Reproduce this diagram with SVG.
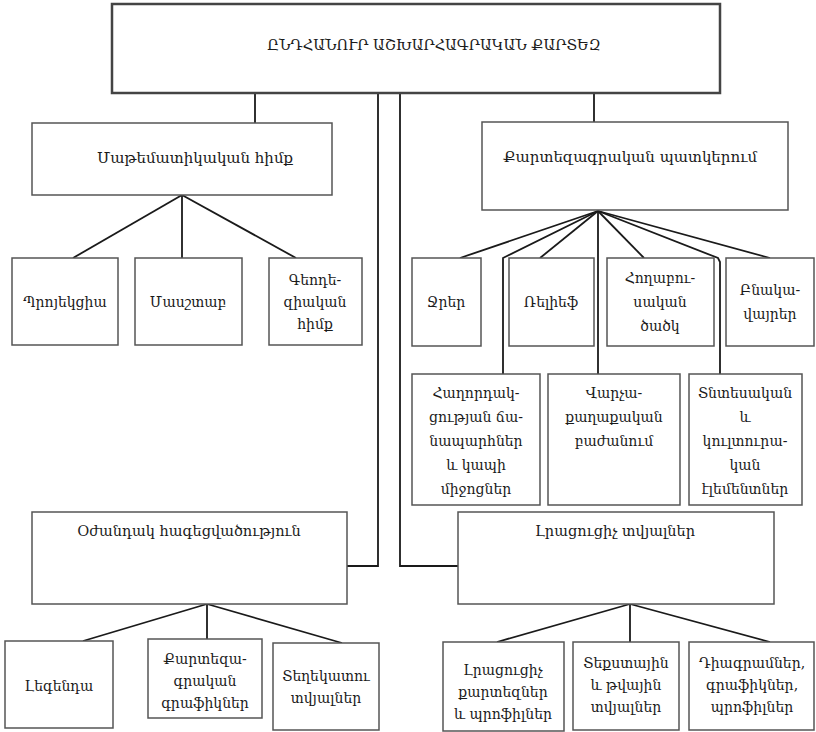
<svg xmlns="http://www.w3.org/2000/svg" width="816" height="732" viewBox="0 0 816 732">
<style>
.b{fill:#fff;stroke:#555;stroke-width:1.5}
.main{stroke-width:2.5;stroke:#444}
.c line,.c polyline{stroke:#1a1a1a;stroke-width:1.8;fill:none}
text{font-family:"DejaVu Serif","DejaVu Sans",serif;font-size:14px;fill:#1a1a1a;text-anchor:middle}
</style>
<rect width="816" height="732" fill="#fff"/>
<g class="c" id="connectors">
<line x1="255" y1="93" x2="255" y2="123"/>
<line x1="594" y1="93" x2="594" y2="123"/>
<polyline points="378,93 378,566 347,566"/>
<polyline points="400,93 400,566 458,566"/>
<line x1="182" y1="195" x2="73" y2="258"/>
<line x1="182" y1="195" x2="182" y2="258"/>
<line x1="182" y1="195" x2="296" y2="258"/>
<line x1="598" y1="211" x2="460" y2="258"/>
<polyline points="598,211 503,258 503,374"/>
<line x1="598" y1="211" x2="540" y2="258"/>
<line x1="598" y1="211" x2="598" y2="374"/>
<line x1="598" y1="211" x2="644" y2="258"/>
<polyline points="598,211 718,258 720,262 720,374"/>
<line x1="598" y1="211" x2="770" y2="258"/>
<line x1="207" y1="604" x2="83" y2="641"/>
<line x1="207" y1="604" x2="207" y2="639"/>
<line x1="207" y1="604" x2="342" y2="643"/>
<line x1="630" y1="604" x2="497" y2="642"/>
<line x1="630" y1="604" x2="630" y2="642"/>
<line x1="630" y1="604" x2="770" y2="642"/>
</g>
<g id="root"><rect class="b main" x="112" y="4" width="608" height="89"/><text x="434" y="50" style="font-size:14.5px">ԸՆԴՀԱՆՈՒՐ ԱՇԽԱՐՀԱԳՐԱԿԱՆ ՔԱՐՏԵԶ</text></g>
<g id="math"><rect class="b" x="32" y="123" width="300" height="72"/><text x="195" y="163" style="font-size:15px">Մաթեմատիկական հիմք</text></g>
<g id="cart"><rect class="b" x="482" y="122" width="306" height="88"/><text x="630" y="162" style="font-size:15px">Քարտեզագրական պատկերում</text></g>
<g id="proj"><rect class="b" x="12" y="258" width="106" height="87"/><text x="65" y="307">Պրոյեկցիա</text></g>
<g id="scale"><rect class="b" x="135" y="258" width="107" height="87"/><text x="188" y="307">Մասշտաբ</text></g>
<g id="geod"><rect class="b" x="269" y="258" width="93" height="87"/><text x="315" y="285">Գեոդե-</text><text x="315" y="307">զիական</text><text x="315" y="329">հիմք</text></g>
<g id="water"><rect class="b" x="412" y="258" width="69" height="88"/><text x="446" y="307">Ջրեր</text></g>
<g id="relief"><rect class="b" x="509" y="258" width="85" height="88"/><text x="551" y="307">Ռելիեֆ</text></g>
<g id="soil"><rect class="b" x="607" y="258" width="107" height="88"/><text x="660" y="283">Հողաբու-</text><text x="660" y="307">սական</text><text x="660" y="331">ծածկ</text></g>
<g id="settle"><rect class="b" x="726" y="258" width="88" height="88"/><text x="770" y="295">Բնակա-</text><text x="770" y="319">վայրեր</text></g>
<g id="transport"><rect class="b" x="412" y="374" width="128" height="131"/><text x="476" y="398">Հաղորդակ-</text><text x="476" y="422">ցության ճա-</text><text x="476" y="446">նապարհներ</text><text x="476" y="470">և կապի</text><text x="476" y="494">միջոցներ</text></g>
<g id="admin"><rect class="b" x="548" y="374" width="132" height="131"/><text x="614" y="398">Վարչա-</text><text x="614" y="422">քաղաքական</text><text x="614" y="446">բաժանում</text></g>
<g id="econ"><rect class="b" x="689" y="374" width="113" height="131"/><text x="745" y="398">Տնտեսական</text><text x="745" y="422">և</text><text x="745" y="446">կուլտուրա-</text><text x="745" y="470">կան</text><text x="745" y="494">էլեմենտներ</text></g>
<g id="aux"><rect class="b" x="32" y="512" width="315" height="92"/><text x="189" y="536" style="font-size:14.5px">Օժանդակ հագեցվածություն</text></g>
<g id="suppl"><rect class="b" x="458" y="512" width="316" height="92"/><text x="615" y="536" style="font-size:14.5px">Լրացուցիչ տվյալներ</text></g>
<g id="legend"><rect class="b" x="5" y="641" width="108" height="87"/><text x="59" y="691">Լեգենդա</text></g>
<g id="graphs"><rect class="b" x="148" y="639" width="114" height="79"/><text x="205" y="664">Քարտեզա-</text><text x="205" y="686">գրական</text><text x="205" y="708">գրաֆիկներ</text></g>
<g id="ref"><rect class="b" x="273" y="643" width="106" height="87"/><text x="326" y="681">Տեղեկատու</text><text x="326" y="703">տվյալներ</text></g>
<g id="suppmaps"><rect class="b" x="443" y="642" width="121" height="89"/><text x="503" y="675">Լրացուցիչ</text><text x="503" y="697">քարտեզներ</text><text x="503" y="719">և պրոֆիլներ</text></g>
<g id="textdata"><rect class="b" x="573" y="642" width="106" height="88"/><text x="626" y="668">Տեքստային</text><text x="626" y="690">և թվային</text><text x="626" y="712">տվյալներ</text></g>
<g id="diagrams"><rect class="b" x="689" y="642" width="125" height="88"/><text x="752" y="668">Դիագրամներ,</text><text x="752" y="690">գրաֆիկներ,</text><text x="752" y="712">պրոֆիլներ</text></g>
</svg>
